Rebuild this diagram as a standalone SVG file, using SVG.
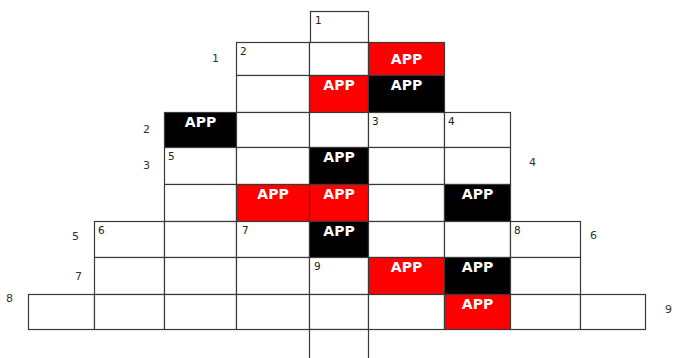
<svg xmlns="http://www.w3.org/2000/svg" width="675" height="358" viewBox="0 0 675 358">
<style>
.w{fill:#fff;stroke:#3a3a3a;stroke-width:1.2}
.r{fill:#ff0000;stroke:#3a3a3a;stroke-width:1.2}
.b{fill:#000;stroke:#3a3a3a;stroke-width:1.2}
.n{font-family:"DejaVu Sans",sans-serif;font-size:10.5px;fill:#222}
.l{font-family:"DejaVu Sans",sans-serif;font-size:11px;fill:#333}
.a{font-family:"DejaVu Sans",sans-serif;font-size:14px;font-weight:bold;fill:#fff;text-anchor:middle}
</style>
<rect width="675" height="358" fill="#fff"/>
<!-- Row A -->
<g id="cell-A5"><rect class="w" x="310.5" y="11.5" width="58" height="31"/><text class="n" x="315" y="24">1</text></g>
<!-- Row B -->
<g id="cell-B4"><rect class="w" x="236.5" y="42.5" width="73" height="33"/><text class="n" x="240" y="55">2</text></g>
<g id="cell-B5"><rect class="w" x="309.5" y="42.5" width="59" height="33"/></g>
<g id="cell-B6"><rect class="r" x="368.5" y="42.5" width="76" height="33"/><text class="a" x="406.5" y="64">APP</text></g>
<!-- Row C -->
<g id="cell-C4"><rect class="w" x="236.5" y="75.5" width="73" height="37"/></g>
<g id="cell-C5"><rect class="r" x="309.5" y="75.5" width="59" height="37"/><text class="a" x="339" y="90">APP</text></g>
<g id="cell-C6"><rect class="b" x="368.5" y="75.5" width="76" height="37"/><text class="a" x="406.5" y="90">APP</text></g>
<!-- Row D -->
<g id="cell-D3"><rect class="b" x="164.5" y="112.5" width="72" height="35"/><text class="a" x="200.5" y="127">APP</text></g>
<g id="cell-D4"><rect class="w" x="236.5" y="112.5" width="73" height="35"/></g>
<g id="cell-D5"><rect class="w" x="309.5" y="112.5" width="59" height="35"/></g>
<g id="cell-D6"><rect class="w" x="368.5" y="112.5" width="76" height="35"/><text class="n" x="372" y="125">3</text></g>
<g id="cell-D7"><rect class="w" x="444.5" y="112.5" width="66" height="35"/><text class="n" x="448" y="125">4</text></g>
<!-- Row E -->
<g id="cell-E3"><rect class="w" x="164.5" y="147.5" width="72" height="37"/><text class="n" x="168" y="160">5</text></g>
<g id="cell-E4"><rect class="w" x="236.5" y="147.5" width="73" height="37"/></g>
<g id="cell-E5"><rect class="b" x="309.5" y="147.5" width="59" height="37"/><text class="a" x="339" y="162">APP</text></g>
<g id="cell-E6"><rect class="w" x="368.5" y="147.5" width="76" height="37"/></g>
<g id="cell-E7"><rect class="w" x="444.5" y="147.5" width="66" height="37"/></g>
<!-- Row F -->
<g id="cell-F3"><rect class="w" x="164.5" y="184.5" width="72" height="37"/></g>
<g id="cell-F4"><rect class="r" x="236.5" y="184.5" width="73" height="37"/><text class="a" x="273" y="199">APP</text></g>
<g id="cell-F5"><rect class="r" x="309.5" y="184.5" width="59" height="37"/><text class="a" x="339" y="199">APP</text></g>
<g id="cell-F6"><rect class="w" x="368.5" y="184.5" width="76" height="37"/></g>
<g id="cell-F7"><rect class="b" x="444.5" y="184.5" width="66" height="37"/><text class="a" x="477.5" y="199">APP</text></g>
<!-- Row G -->
<g id="cell-G2"><rect class="w" x="94.5" y="221.5" width="70" height="36"/><text class="n" x="98" y="234">6</text></g>
<g id="cell-G3"><rect class="w" x="164.5" y="221.5" width="72" height="36"/></g>
<g id="cell-G4"><rect class="w" x="236.5" y="221.5" width="73" height="36"/><text class="n" x="242" y="234">7</text></g>
<g id="cell-G5"><rect class="b" x="309.5" y="221.5" width="59" height="36"/><text class="a" x="339" y="236">APP</text></g>
<g id="cell-G6"><rect class="w" x="368.5" y="221.5" width="76" height="36"/></g>
<g id="cell-G7"><rect class="w" x="444.5" y="221.5" width="66" height="36"/></g>
<g id="cell-G8"><rect class="w" x="510.5" y="221.5" width="70" height="36"/><text class="n" x="514" y="234">8</text></g>
<!-- Row H -->
<g id="cell-H2"><rect class="w" x="94.5" y="257.5" width="70" height="37"/></g>
<g id="cell-H3"><rect class="w" x="164.5" y="257.5" width="72" height="37"/></g>
<g id="cell-H4"><rect class="w" x="236.5" y="257.5" width="73" height="37"/></g>
<g id="cell-H5"><rect class="w" x="309.5" y="257.5" width="59" height="37"/><text class="n" x="314" y="270">9</text></g>
<g id="cell-H6"><rect class="r" x="368.5" y="257.5" width="76" height="37"/><text class="a" x="406.5" y="272">APP</text></g>
<g id="cell-H7"><rect class="b" x="444.5" y="257.5" width="66" height="37"/><text class="a" x="477.5" y="272">APP</text></g>
<g id="cell-H8"><rect class="w" x="510.5" y="257.5" width="70" height="37"/></g>
<!-- Row I -->
<g id="cell-I1"><rect class="w" x="28.5" y="294.5" width="66" height="35"/></g>
<g id="cell-I2"><rect class="w" x="94.5" y="294.5" width="70" height="35"/></g>
<g id="cell-I3"><rect class="w" x="164.5" y="294.5" width="72" height="35"/></g>
<g id="cell-I4"><rect class="w" x="236.5" y="294.5" width="73" height="35"/></g>
<g id="cell-I5"><rect class="w" x="309.5" y="294.5" width="59" height="35"/></g>
<g id="cell-I6"><rect class="w" x="368.5" y="294.5" width="76" height="35"/></g>
<g id="cell-I7"><rect class="r" x="444.5" y="294.5" width="66" height="35"/><text class="a" x="477.5" y="309">APP</text></g>
<g id="cell-I8"><rect class="w" x="510.5" y="294.5" width="70" height="35"/></g>
<g id="cell-I9"><rect class="w" x="580.5" y="294.5" width="65" height="35"/></g>
<!-- Row J -->
<g id="cell-J5"><rect class="w" x="309.5" y="329.5" width="59" height="40"/></g>
<!-- Outer labels -->
<g id="labels">
<text class="l" x="212" y="62">1</text>
<text class="l" x="143" y="133">2</text>
<text class="l" x="143" y="169">3</text>
<text class="l" x="529" y="166">4</text>
<text class="l" x="72" y="240">5</text>
<text class="l" x="590" y="239">6</text>
<text class="l" x="75" y="280">7</text>
<text class="l" x="6" y="302">8</text>
<text class="l" x="665" y="313">9</text>
</g>
<g id="connectors"></g>
</svg>
